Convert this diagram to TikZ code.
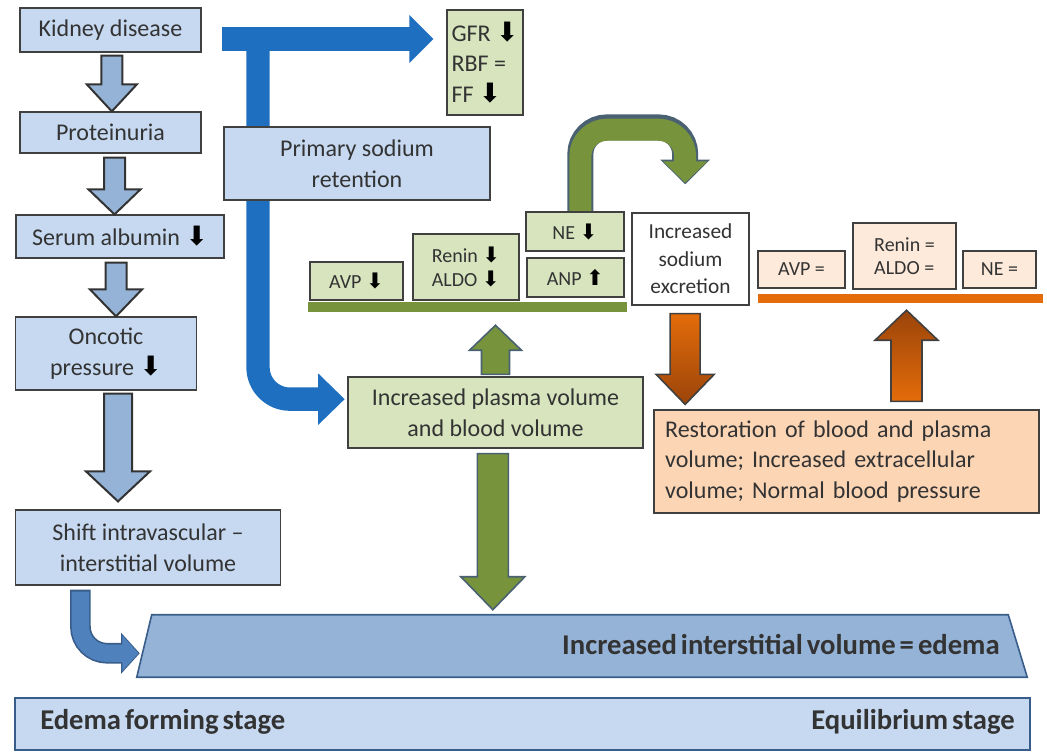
\documentclass[tikz,border=0pt]{standalone}
\usepackage{fontspec}
\setmainfont{Carlito}
\newfontfamily\arrowfont{DejaVu Sans}
\usepackage{tikz}
\usetikzlibrary{arrows.meta, positioning, calc, backgrounds}
\definecolor{edblue}{HTML}{C6D9F1}
\definecolor{edbluemid}{HTML}{95B3D7}
\definecolor{edbluedark}{HTML}{385D8A}
\definecolor{edcurve}{HTML}{4F81BD}
\definecolor{edstrong}{HTML}{1F6FC0}
\definecolor{edgreen}{HTML}{D7E4BD}
\definecolor{edolive}{HTML}{77933C}
\definecolor{edslate}{HTML}{4A6172}
\definecolor{edpeach}{HTML}{FCD5B5}
\definecolor{edpeachlight}{HTML}{FDEADA}
\definecolor{edorange}{HTML}{E46C0A}
\definecolor{edbrown}{HTML}{9A440A}
\definecolor{edtext}{HTML}{333333}
\definecolor{edline}{HTML}{404040}

\newcommand{\arrdn}{{\arrowfont\fontsize{20}{20}\selectfont\color{black}⬇}}
\newcommand{\arrup}{{\arrowfont\fontsize{20}{20}\selectfont\color{black}⬆}}
\newcommand{\sarrdn}{{\arrowfont\fontsize{16}{16}\selectfont\color{black}⬇}}
\newcommand{\sarrup}{{\arrowfont\fontsize{16}{16}\selectfont\color{black}⬆}}
\newcommand{\tightsp}{\spaceskip=3pt plus 1pt\relax}

% block arrow: style, from, to, shaft half width, head half width, head length (px)
\newcommand{\blockv}[6]{%
  \draw[#1] let \p1=#2, \p2=#3 in
    (\x1-#4*0.75pt,\y1) -- (\x1-#4*0.75pt,\y2+#6*0.75pt) -- (\x1-#5*0.75pt,\y2+#6*0.75pt)
    -- (\x1,\y2) -- (\x1+#5*0.75pt,\y2+#6*0.75pt) -- (\x1+#4*0.75pt,\y2+#6*0.75pt)
    -- (\x1+#4*0.75pt,\y1) -- cycle;}

\begin{document}
\begin{tikzpicture}[x=0.75pt, y=-0.75pt,
  sz/.style 2 args={minimum width=#1*0.75pt, minimum height=#2*0.75pt},
  box/.style={draw=edline, line width=0.9pt, fill=edblue, text=edtext,
    font=\fontsize{18}{23}\selectfont, align=center, inner sep=2pt},
  gbox/.style={box, fill=edgreen},
  obox/.style={box, fill=edpeachlight},
  small/.style={font=\fontsize{15}{17.5}\selectfont},
  big/.style={font=\fontsize{21.5}{26}\selectfont\bfseries, text=edtext, inner sep=0pt},
  bblock/.style={fill=edbluemid, draw=black!80, line width=1.5pt},
  gblock/.style={fill=edolive, draw=edslate, line width=1.2pt},
  dblock/.style={top color=edorange, bottom color=edbrown, draw=black!75, line width=1.2pt},
  ublock/.style={top color=edbrown, bottom color=edorange, draw=black!75, line width=1.2pt},
  strong/.style={draw=edstrong, line width=17.5pt}
]
  \useasboundingbox (0,0) rectangle (1047,752);

  % Left column
  \node[box, sz={181}{44}] (kid) at (110.5,30) {Kidney disease};
  \node[box, sz={181}{41}] (prot) at (110.5,132.5) {Proteinuria};
  \node[box, sz={208}{43}] (alb) at (120,236.5) {Serum albumin \arrdn};
  \node[box, sz={181}{73}] (onc) at (106,353.5) {Oncotic\\pressure \arrdn};
  \node[box, sz={265}{75}] (shift) at (148,547.5) {Shift intravascular --\\interstitial volume};

  % Kidney branch
  \node[box, sz={266}{73}] (prim) at (357,163.5) {Primary sodium\\retention};
  \node[gbox, sz={76}{105}, align=left] (gfr) at (485,62.5) {GFR \arrdn\\RBF =\\FF \arrdn};

  % Hormones, edema forming stage
  \node[gbox, small, sz={93}{38}] (avp) at (356.5,281) {AVP \sarrdn};
  \node[gbox, small, sz={106}{66}, align=left] (ren) at (466,267) {Renin \sarrdn\\ALDO \sarrdn};
  \node[gbox, small, sz={98}{39}] (ne) at (575,231.5) {NE \sarrdn};
  \node[gbox, small, sz={97}{39}] (anp) at (575.5,277.5) {ANP \sarrup};
  \node[fill=edolive, inner sep=0pt, sz={319}{10}] (gbar) at (467.5,307) {};
  \node[box, fill=white, font=\fontsize{16}{20.5}\selectfont, sz={117}{92}] (sod) at (690.5,259) {Increased\\sodium\\excretion};

  % Hormones, equilibrium stage
  \node[obox, small, sz={87}{37}] (avp2) at (801.5,269.5) {AVP =};
  \node[obox, small, sz={103}{66}, align=left] (ren2) at (904.5,256) {Renin =\\ALDO =};
  \node[obox, small, sz={73}{37}] (ne2) at (999.5,269.5) {NE =};
  \node[fill=edorange, inner sep=0pt, sz={285}{9}] (obar) at (900.5,298.5) {};

  % Volumes
  \node[gbox, sz={295}{71}] (pv) at (495.5,412.5) {Increased plasma volume\\and blood volume};
  \node[box, fill=edpeach, sz={385}{103}, text width=272pt, inner xsep=8.25pt, align=left] (rest) at (846.5,461.5)
    {Restoration of blood and plasma\\volume; Increased extracellular\\volume; Normal blood pressure};
  \node[inner sep=0pt, sz={890}{62}] (edema) at (582,646) {};
  \node[big, anchor=east] (edematext) at (1000,645) {\tightsp Increased interstitial volume = edema};

  % Stage bar
  \node[draw=edbluedark, line width=1.5pt, fill=edblue, sz={1015}{52}] (stage) at (522.5,724) {};
  \node[big, anchor=west] (forming) at (40,722) {\tightsp Edema forming stage};
  \node[big, anchor=east] (equil) at (1015,722) {\tightsp Equilibrium stage};

  \begin{scope}[on background layer]
    \draw[fill=edbluemid, draw=edbluedark, line width=1.2pt] (edema.south west) -- ($(edema.north west)+(15,0)$)
      -- ($(edema.north east)+(-19,0)$) -- (edema.south east) -- cycle;

    % Blue branch from kidney disease
    \coordinate (bstart) at (222,39);
    \coordinate (bsplit) at (258,39);
    \draw[strong, -{Triangle[length=18pt,width=35pt]}, shorten >=9.75pt] (bstart) -- (gfr.west |- bstart);
    \draw[strong, rounded corners=24pt, -{Triangle[length=20pt,width=37.5pt]}, shorten >=2pt]
      (bsplit) |- ([yshift=10pt]pv.west);

    % Feedback arrow over NE
    \draw[edslate, line width=19.5pt, rounded corners=20pt, -{Triangle[length=18.5pt,width=36pt]}]
      ([xshift=4pt]ne.north) -- ++(0,-84) -| ([xshift=-4pt,yshift=21pt]sod.north);
    \draw[edolive, line width=16.5pt, rounded corners=20pt, -{Triangle[length=16pt,width=32pt]}, shorten >=1.2pt]
      ([xshift=4pt,yshift=-1pt]ne.north) -- ++(0,-83) -| ([xshift=-4pt,yshift=21pt]sod.north);

    % Curved arrow to the edema
    \draw[edbluedark, line width=15.5pt, rounded corners=20pt, -{Triangle[length=14pt,width=30pt]}]
      ($(shift.south west)+(65.5,4)$) |- ($(edema.south west)+(3,-24)$);
    \draw[edcurve, line width=13pt, rounded corners=20pt, -{Triangle[length=12pt,width=26pt]}, shorten >=1pt]
      ($(shift.south west)+(65.5,6)$) |- ($(edema.south west)+(3,-24)$);
  \end{scope}

  % Block arrows, left column
  \blockv{bblock}{([xshift=1pt,yshift=-2.25pt]kid.south)}{(prot.north)}{10.5}{25}{27}
  \blockv{bblock}{([xshift=3pt,yshift=-3pt]prot.south)}{(alb.north)}{10.5}{26}{25}
  \blockv{bblock}{([xshift=-3pt,yshift=-3pt]alb.south)}{(onc.north)}{10.5}{26}{27}
  \blockv{bblock}{([xshift=9pt,yshift=-2.25pt]onc.south)}{([yshift=6pt]shift.north)}{14}{32}{30}

  % Block arrows, volumes
  \blockv{gblock}{([yshift=1.5pt]pv.north)}{([yshift=-9.75pt]gbar.south)}{14}{26}{-25}
  \blockv{gblock}{([xshift=-2pt,yshift=-3.75pt]pv.south)}{([yshift=3.75pt]edema.north)}{15.5}{32}{33}
  \blockv{dblock}{([xshift=-4pt,yshift=-6pt]sod.south)}{([yshift=3.75pt]rest.north)}{15}{29}{30}
  \blockv{ublock}{($(rest.north -| ren2)+(2,-8)$)}{($(obar.south -| ren2)+(0,7)$)}{15.5}{31.5}{-30}
\end{tikzpicture}
\end{document}
